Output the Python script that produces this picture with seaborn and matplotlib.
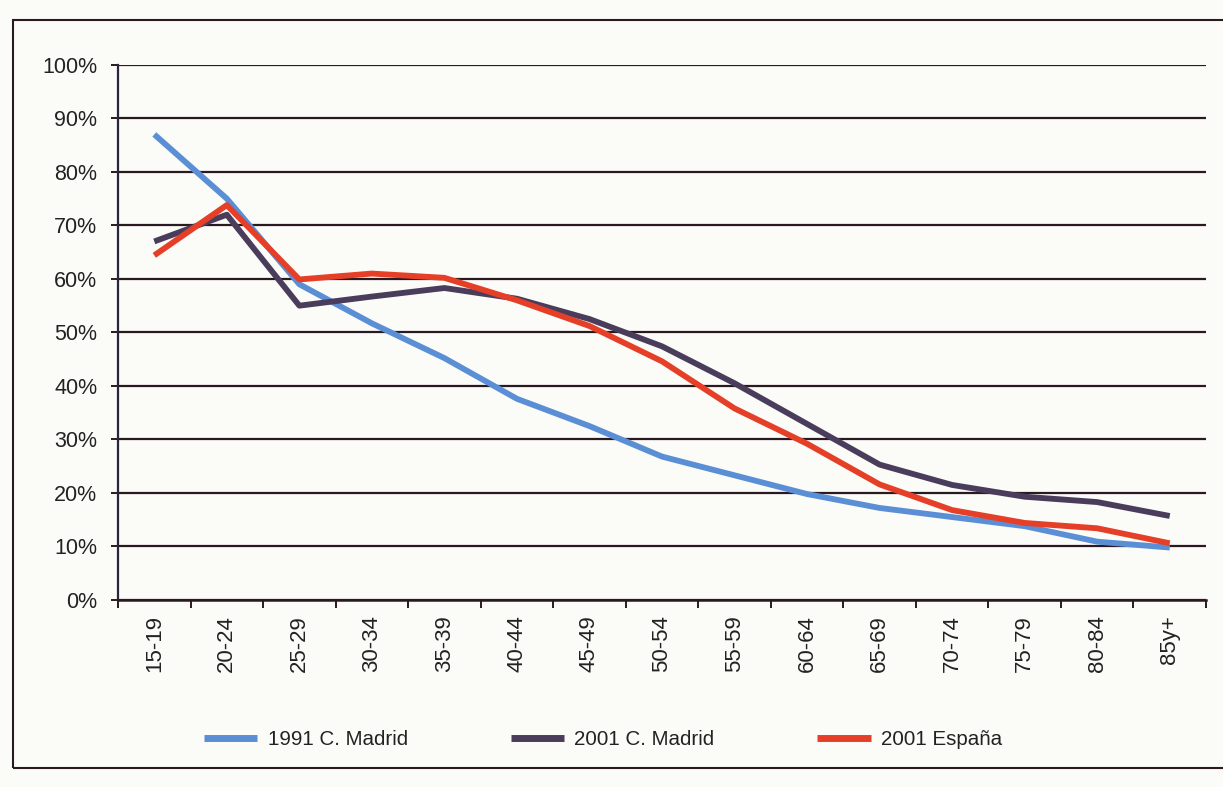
import pandas as pd
import matplotlib.pyplot as plt
import seaborn as sns
from matplotlib.ticker import FixedLocator, PercentFormatter
from matplotlib.patches import Rectangle

ages = ["15-19", "20-24", "25-29", "30-34", "35-39", "40-44", "45-49", "50-54",
        "55-59", "60-64", "65-69", "70-74", "75-79", "80-84", "85y+"]
madrid_1991 = [87, 75, 59, 51.7, 45.2, 37.6, 32.5, 26.8, 23.3, 19.8, 17.2, 15.5, 13.8, 10.9, 9.8]
madrid_2001 = [67, 72, 55, 56.7, 58.3, 56.3, 52.5, 47.4, 40.5, 32.9, 25.3, 21.5, 19.3, 18.3, 15.7]
espana_2001 = [64.4, 73.8, 59.9, 61, 60.2, 56, 51.2, 44.6, 35.8, 29.2, 21.6, 16.8, 14.4, 13.4, 10.6]

series = ["1991 C. Madrid", "2001 C. Madrid", "2001 España"]
colors = {"1991 C. Madrid": "#5b8fd5", "2001 C. Madrid": "#4a3d5c", "2001 España": "#e63f28"}

df = pd.DataFrame({
    "edad": ages * 3,
    "valor": madrid_1991 + madrid_2001 + espana_2001,
    "serie": [series[0]] * 15 + [series[1]] * 15 + [series[2]] * 15,
})

sns.set_theme(style="white")
plt.rcParams["font.family"] = ["Liberation Sans", "DejaVu Sans"]

fig = plt.figure(figsize=(12.23, 7.87), dpi=100, facecolor="#fbfbf8")
ax = fig.add_axes([0.0965, 0.2376, 0.8896, 0.680])
ax.set_facecolor("#fbfbf8")

sns.lineplot(data=df, x="edad", y="valor", hue="serie", palette=colors, sort=False,
             linewidth=4.2, ax=ax, legend=False)
for ln in ax.lines:
    ln.set_solid_joinstyle("round")
    ln.set_solid_capstyle("butt")

ax.set_xlim(-0.5, 14.5)
ax.set_ylim(0, 100)
ax.set_yticks(range(0, 101, 10))
ax.yaxis.set_major_formatter(PercentFormatter(100, decimals=0))
ax.grid(axis="y", color="#2a1a1f", linewidth=1.6)
ax.set_axisbelow(True)

# ticks between the age groups, labels at the centre
ax.xaxis.set_minor_locator(FixedLocator([i - 0.5 for i in range(16)]))
ax.tick_params(axis="x", which="major", length=0, pad=11, labelrotation=90, labelsize=16, colors="#222222")
ax.tick_params(axis="x", which="minor", length=6, width=1.4, color="#2a1a1f", bottom=True)
ax.tick_params(axis="y", length=5, width=1.4, color="#2a1a1f", pad=10, labelsize=15.5, left=True)
for t in ax.get_yticklabels():
    t.set_color("#222222")

for s in ["top", "right"]:
    ax.spines[s].set_visible(False)
ax.spines["left"].set_color("#2a2440")
ax.spines["left"].set_linewidth(1.6)
ax.spines["bottom"].set_color("#2a1a1f")
ax.spines["bottom"].set_linewidth(1.8)
ax.set_xlabel("")
ax.set_ylabel("")

handles = [plt.Line2D([], [], color=colors[s], linewidth=5, solid_capstyle="butt") for s in series]
fig.legend(handles, series, loc="center", bbox_to_anchor=(603 / 1223, 0.06), ncol=3,
           frameon=False, fontsize=14.8, handlelength=2.6, handletextpad=0.5,
           columnspacing=5.0, labelcolor="#222222")

fig.patches.append(Rectangle((13 / 1223, 1 - 768 / 787), 1.2, (768 - 20) / 787,
                             transform=fig.transFigure, fill=False,
                             edgecolor="#2a1a1f", linewidth=1.5))

fig.savefig("out.png", dpi=100, facecolor=fig.get_facecolor())
